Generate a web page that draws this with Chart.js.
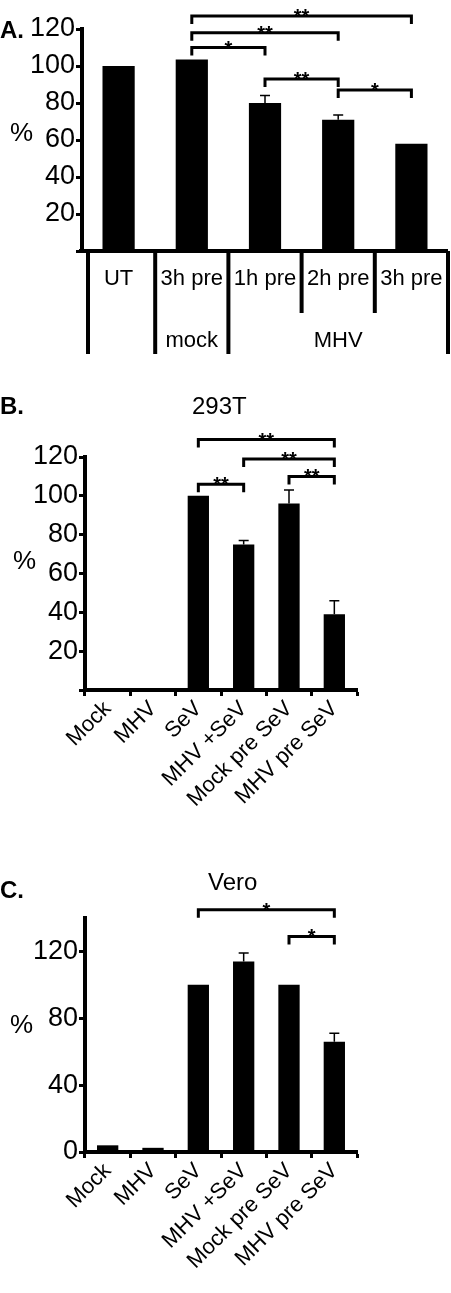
<!DOCTYPE html>
<html><head><meta charset="utf-8">
<script src="https://cdn.jsdelivr.net/npm/chart.js@4/dist/chart.umd.min.js"></script>
<style>
body{margin:0;background:#fff;width:451px;height:1293px;position:relative;overflow:hidden}
.p{position:absolute;left:0}
</style></head><body>
<div class="p" style="top:0;width:451px;height:370px"><canvas id="chartA"></canvas></div>
<div class="p" style="top:390px;width:451px;height:430px"><canvas id="chartB"></canvas></div>
<div class="p" style="top:830px;width:451px;height:463px"><canvas id="chartC"></canvas></div>
<script>
// panel A
const labelsA = ['UT', '3h pre', '1h pre', '2h pre', '3h pre'];
const groupsA = [['', 0, 0], ['mock', 1, 1], ['MHV', 2, 4]];
const valuesA = [100, 103.5, 80, 71, 58];
const errA = [0, 0, 4, 2.5, 0];
const bracketsA = [[1, 2, 110, '*'], [1, 3, 118, '**'], [1, 4, 127, '**'], [2, 3, 93, '**'], [3, 4, 87, '*']];

// panels B and C share categories
const labelsBC = ['Mock', 'MHV', 'SeV', 'MHV +SeV', 'Mock pre SeV', 'MHV pre SeV'];
const valuesB = [0.5, 1, 100, 75, 96, 39];
const errB = [0, 0, 0, 2, 7, 7];
const bracketsB = [[2, 3, 106, '**'], [3, 5, 119, '**'], [4, 5, 110, '**'], [2, 5, 129, '**']];
const valuesC = [4, 2.5, 100, 114, 100, 66];
const errC = [0, 0, 0, 5, 0, 5];
const bracketsC = [[2, 5, 145, '*'], [4, 5, 129, '*']];

Chart.defaults.font.family = 'Liberation Sans, Arial, sans-serif';
Chart.defaults.color = '#000';
Chart.defaults.animation = false;

const extras = {
  id: 'extras',
  afterDatasetsDraw(chart, args, o) {
    const ctx = chart.ctx, x = chart.scales.x, y = chart.scales.y;
    ctx.save();
    ctx.strokeStyle = '#000'; ctx.fillStyle = '#000';
    // error bars
    const meta = chart.getDatasetMeta(0);
    ctx.lineWidth = 1.5;
    o.err.forEach((e, i) => {
      if (!e) return;
      const cx = meta.data[i].x, top = y.getPixelForValue(o.vals[i]), t = y.getPixelForValue(o.vals[i] + e);
      ctx.beginPath(); ctx.moveTo(cx, top); ctx.lineTo(cx, t);
      ctx.moveTo(cx - 5, t); ctx.lineTo(cx + 5, t); ctx.stroke();
    });
    // significance brackets
    ctx.lineWidth = 3;
    ctx.font = 'bold 20px Liberation Sans, Arial';
    ctx.textAlign = 'center'; ctx.textBaseline = 'alphabetic';
    o.brackets.forEach(([a, b, v, s]) => {
      const x1 = x.getPixelForValue(a), x2 = x.getPixelForValue(b), py = y.getPixelForValue(v);
      ctx.beginPath(); ctx.moveTo(x1, py + 8); ctx.lineTo(x1, py); ctx.lineTo(x2, py); ctx.lineTo(x2, py + 8); ctx.stroke();
      ctx.fillText(s, (x1 + x2) / 2, py + 7);
    });
    // texts
    o.texts.forEach(([t, tx, ty, f]) => {
      ctx.font = f; ctx.textAlign = 'left'; ctx.textBaseline = 'middle';
      ctx.fillText(t, tx, ty);
    });
    // table under panel A
    if (o.table) {
      const half = (x.getPixelForValue(1) - x.getPixelForValue(0)) / 2;
      const base = chart.chartArea.bottom;
      ctx.lineWidth = 4;
      ctx.beginPath(); ctx.moveTo(chart.chartArea.left - 3, base); ctx.lineTo(chart.chartArea.right, base); ctx.stroke();
      ctx.font = '22px Liberation Sans, Arial'; ctx.textAlign = 'center';
      for (let i = 0; i <= labelsA.length; i++) {
        const ex = x.getPixelForValue(i) - half + (i === 0 ? 6 : 0);
        const inner = i === 3 || i === 4;
        ctx.beginPath(); ctx.moveTo(ex, base); ctx.lineTo(ex, inner ? base + 62 : base + 103); ctx.stroke();
      }
      labelsA.forEach((l, i) => ctx.fillText(l, x.getPixelForValue(i), base + 28));
      groupsA.forEach(([g, a, b]) => {
        if (g) ctx.fillText(g, (x.getPixelForValue(a) + x.getPixelForValue(b)) / 2, base + 90);
      });
    }
    ctx.restore();
  }
};

function makeChart(id, labels, vals, err, brackets, opt) {
  return new Chart(document.getElementById(id), {
    type: 'bar',
    data: { labels: labels, datasets: [{ data: vals, backgroundColor: '#000', barPercentage: opt.bar, categoryPercentage: 1 }] },
    plugins: [extras],
    options: {
      responsive: true, maintainAspectRatio: false,
      layout: { padding: opt.pad },
      plugins: { legend: { display: false }, tooltip: { enabled: false },
        extras: { vals: vals, err: err, brackets: brackets, texts: opt.texts, table: opt.table } },
      scales: {
        x: {
          display: !opt.table,
          afterFit: s => { s.height = opt.xh; },
          grid: { offset: true, drawOnChartArea: false, tickLength: 6, tickWidth: 3, color: '#000' },
          border: { color: '#000', width: 4 },
          ticks: { maxRotation: 45, minRotation: 45, font: { size: 22 }, padding: 0, autoSkip: false }
        },
        y: {
          min: 0, max: opt.max,
          afterFit: s => { s.width = opt.yw; },
          grid: { drawOnChartArea: false, tickLength: 6, tickWidth: 3, color: '#000' },
          border: { color: '#000', width: 4 },
          ticks: { stepSize: 20, font: { size: 27 }, padding: 1,
            callback: v => (v === 0 && !opt.zero) ? '' : v }
        }
      }
    }
  });
}

makeChart('chartA', labelsA, valuesA, errA, bracketsA, {
  bar: 0.44, max: 120, yw: 82, xh: 0, zero: false, table: true,
  pad: { top: 29, right: 3, bottom: 119, left: 0 },
  texts: [['A.', 0, 31, 'bold 24px Liberation Sans, Arial'], ['%', 10, 134, '26px Liberation Sans, Arial']]
});
makeChart('chartB', labelsBC, valuesB, errB, bracketsB, {
  bar: 0.47, max: 120, yw: 85, xh: 130, zero: false,
  pad: { top: 67, right: 94, bottom: 0, left: 0 },
  texts: [['B.', 0, 17, 'bold 24px Liberation Sans, Arial'], ['293T', 192, 17, '24px Liberation Sans, Arial'],
          ['%', 13, 172, '26px Liberation Sans, Arial']]
});
makeChart('chartC', labelsBC, valuesC, errC, bracketsC, {
  bar: 0.47, max: 140, yw: 85, xh: 141, zero: true,
  pad: { top: 88, right: 94, bottom: 0, left: 0 },
  texts: [['C.', 0, 61, 'bold 24px Liberation Sans, Arial'], ['Vero', 208, 53, '24px Liberation Sans, Arial'],
          ['%', 10, 196, '26px Liberation Sans, Arial']]
});
</script>
</body></html>
